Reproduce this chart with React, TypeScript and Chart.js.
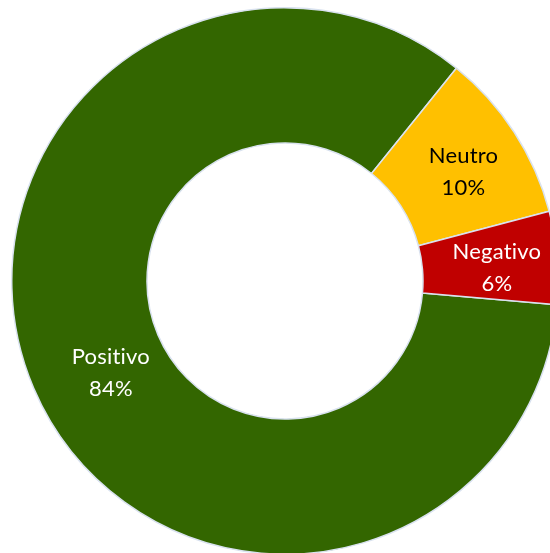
import React, { useEffect, useRef } from "react";
import { Chart, registerables } from "chart.js";

Chart.register(...registerables);

const categories = ["Positivo", "Neutro", "Negativo"];
const shares = [84.4, 10.1, 5.5];
const sliceColors = ["#336600", "#FFC000", "#C00000"];
const labelColors = ["#FFFFFF", "#000000", "#FFFFFF"];
// small label nudges (px) to match the original label placement
const labelNudgeX = [15, 6, 7];
const labelNudgeY = [11, 3, 4];

const labelPlugin = {
  id: "sliceLabels",
  afterDatasetsDraw(chart: any) {
    const meta = chart.getDatasetMeta(0);
    const ctx = chart.ctx;
    const data = chart.data.datasets[0].data as number[];
    const total = data.reduce((a, b) => a + b, 0);
    ctx.save();
    ctx.font = '22px Lato, "DejaVu Sans", sans-serif';
    try {
      (ctx as any).letterSpacing = "0.2px";
    } catch (e) {}
    ctx.textAlign = "center";
    ctx.textBaseline = "middle";
    meta.data.forEach((arc: any, i: number) => {
      const p = arc.tooltipPosition(false);
      const x = p.x + labelNudgeX[i];
      const y = p.y + labelNudgeY[i];
      const pct = Math.round((data[i] / total) * 100) + "%";
      ctx.fillStyle = labelColors[i];
      ctx.fillText(String(chart.data.labels[i]), x, y - 16);
      ctx.fillText(pct, x, y + 16);
    });
    ctx.restore();
  },
};

export default function App() {
  const ref = useRef<HTMLCanvasElement | null>(null);
  useEffect(() => {
    if (!ref.current) return;
    const chart = new Chart(ref.current, {
      type: "doughnut",
      data: {
        labels: categories,
        datasets: [
          {
            data: shares,
            backgroundColor: sliceColors,
            borderColor: "#d9e2ef",
            borderWidth: 1.5,
          },
        ],
      },
      options: {
        animation: false,
        responsive: true,
        maintainAspectRatio: false,
        cutout: "50.5%",
        rotation: 95,
        layout: { padding: 0 },
        plugins: {
          legend: { display: false },
          tooltip: { enabled: false },
        },
      },
      plugins: [labelPlugin],
    });
    return () => chart.destroy();
  }, []);
  return (
    <div
      style={{
        position: "fixed",
        left: 0,
        top: 0,
        width: 550,
        height: 553,
        overflow: "hidden",
        background: "#ffffff",
      }}
    >
      <div style={{ position: "absolute", left: 11, top: 7, width: 548, height: 548 }}>
        <canvas ref={ref} />
      </div>
    </div>
  );
}
